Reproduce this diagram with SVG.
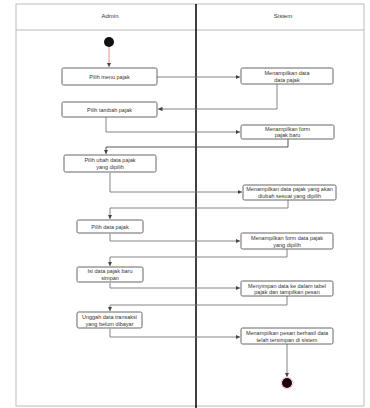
<svg xmlns="http://www.w3.org/2000/svg" width="370" height="408" viewBox="0 0 370 408">
<defs>
<marker id="ah" viewBox="0 0 6 6" refX="6" refY="3" markerWidth="5" markerHeight="5" orient="auto">
<path d="M0,0 L6,3 L0,6 z" fill="#444"/>
</marker>
<style>
.act rect{fill:#fff;stroke:#666;stroke-width:1}
.act text{font-family:"Liberation Sans",Arial,sans-serif;font-size:5.5px;fill:#333;text-anchor:middle}
.lane{font-family:"Liberation Sans",Arial,sans-serif;font-size:6px;fill:#333;text-anchor:middle}
#connectors path{fill:none;stroke:#777;stroke-width:0.9;marker-end:url(#ah)}
</style>
</defs>
<rect width="370" height="408" fill="#fff"/>
<g id="frame">
<rect x="16" y="4" width="348" height="402" fill="none" stroke="#bbb" stroke-width="1"/>
<line x1="16" y1="30" x2="364" y2="30" stroke="#bbb" stroke-width="1"/>
<line x1="196" y1="4" x2="196" y2="408" stroke="#000" stroke-width="1.5"/>
<text class="lane" x="110" y="18">Admin</text>
<text class="lane" x="283" y="18">Sistem</text>
</g>
<g id="connectors">
<path d="M109,47 V67" style="stroke:#d88"/>
<path d="M157,77 H240"/>
<path d="M277,84 V109 H158"/>
<path d="M106,117 V132 H240"/>
<path d="M288,139 V147 H106 V154" style="stroke:#444"/>
<path d="M110,173 V192 H242"/>
<path d="M288,200 V208 H110 V219"/>
<path d="M110,234 V241 H240"/>
<path d="M287,249 V257 H110 V266"/>
<path d="M110,283 V288 H240"/>
<path d="M287,296 V305 H110 V311"/>
<path d="M110,329 V337 H240"/>
<path d="M287,344 V377"/>
</g>
<g id="start"><circle cx="109" cy="42" r="5" fill="#111"/></g>
<g id="a1" class="act"><rect x="62" y="68" width="95" height="17" rx="1.5"/><text x="109.5" y="78.5">Pilih menu pajak</text></g>
<g id="a2" class="act"><rect x="62" y="102" width="95" height="15" rx="1.5"/><text x="109.5" y="111.5">Pilih tambah pajak</text></g>
<g id="a3" class="act"><rect x="64" y="155" width="92" height="17" rx="1.5"/><text x="110" y="162">Pilih ubah data pajak</text><text x="110" y="169">yang dipilih</text></g>
<g id="a4" class="act"><rect x="77" y="220" width="66" height="13" rx="1.5"/><text x="110" y="228.5">Pilih data pajak</text></g>
<g id="a5" class="act"><rect x="77" y="267" width="66" height="15" rx="1.5"/><text x="110" y="273">Isi data pajak baru</text><text x="110" y="280">simpan</text></g>
<g id="a6" class="act"><rect x="77" y="312" width="65" height="16" rx="1.5"/><text x="109.5" y="318.5">Unggah data transaksi</text><text x="109.5" y="325.5">yang belum dibayar</text></g>
<g id="b1" class="act"><rect x="241" y="68" width="92" height="16" rx="1.5"/><text x="287" y="75">Menampilkan data</text><text x="287" y="82">data pajak</text></g>
<g id="b2" class="act"><rect x="241" y="125" width="93" height="14" rx="1.5"/><text x="287.5" y="131">Menampilkan form</text><text x="287.5" y="137">pajak baru</text></g>
<g id="b3" class="act"><rect x="243" y="185" width="93" height="15" rx="1.5"/><text x="289.5" y="191">Menampilkan data pajak yang akan</text><text x="289.5" y="197.5">diubah sesuai yang dipilih</text></g>
<g id="b4" class="act"><rect x="241" y="233" width="92" height="16" rx="1.5"/><text x="287" y="240">Menampilkan form data pajak</text><text x="287" y="246.5">yang dipilih</text></g>
<g id="b5" class="act"><rect x="241" y="281" width="92" height="15" rx="1.5"/><text x="287" y="287.5">Menyimpan data ke dalam tabel</text><text x="287" y="294">pajak dan tampilkan pesan</text></g>
<g id="b6" class="act"><rect x="241" y="328" width="92" height="16" rx="1.5"/><text x="287" y="334.5">Menampilkan pesan berhasil data</text><text x="287" y="341.5">telah tersimpan di sistem</text></g>
<g id="end"><circle cx="287" cy="383" r="6" fill="#fff" stroke="#f4c4c4" stroke-width="1"/><circle cx="287" cy="383" r="5" fill="#1a0008"/></g>
</svg>
